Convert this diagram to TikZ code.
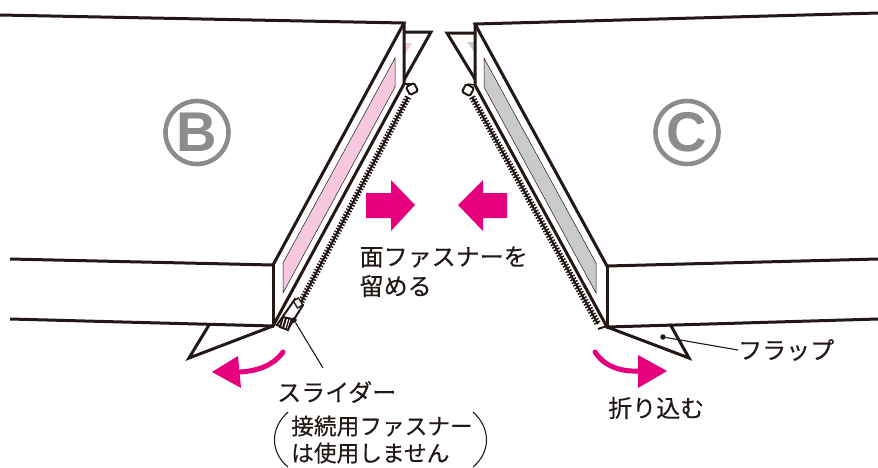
\documentclass[tikz,border=0pt]{standalone}
\usepackage{fontspec}
\usepackage{xcolor}
\newfontfamily\jpfont[FakeBold=0.25]{Noto Sans CJK JP}
\newfontfamily\capfont{Liberation Sans}
\definecolor{inkblack}{HTML}{231815}
\definecolor{magentaarrow}{HTML}{E6007E}
\definecolor{flappink}{HTML}{F5C8DD}
\definecolor{flapgray}{HTML}{C9CACA}
\definecolor{markgray}{HTML}{8C8C8C}
\tikzset{
  edge/.style={draw=inkblack,line width=3pt,line join=miter},
  thinedge/.style={draw=inkblack,line width=2pt},
  teeth/.style={draw=inkblack,line width=6.5pt,dash pattern=on 1.5pt off 1.6pt},
  tapeline/.style={draw=inkblack,line width=1.3pt},
  leader/.style={draw=inkblack,line width=1.1pt},
  leaderdot/.style={circle,fill=inkblack,inner sep=0pt,minimum size=5.5pt},
  patch/.style={draw=inkblack,line width=0.5pt},
  blockarrow/.style={fill=magentaarrow},
  curvearrow/.style={draw=magentaarrow,line width=5pt,line cap=round},
  caption/.style={inner sep=0pt,anchor=west,text=inkblack,font=\jpfont\fontsize{24}{26}\selectfont},
  smallcaption/.style={caption,font=\jpfont\fontsize{22.7}{25}\selectfont},
  markring/.style={circle,draw=markgray,line width=4.6pt,minimum size=63pt,inner sep=0pt,text=markgray,font=\capfont\bfseries\fontsize{56}{56}\selectfont},
}
\begin{document}
\begin{tikzpicture}[x=1pt,y=1pt]
\useasboundingbox (0,0) rectangle (878,-467);
% left part
\fill [flappink] (404,-43) -- (412,-43) -- (404,-56);
\draw [patch,fill=flappink] (395,-58) -- (395,-87) -- (283,-293) -- (283,-263) -- cycle;
\draw [edge] (0,-15) -- (404,-23) -- (273,-265) -- (10,-259);
\draw [edge] (404,-23) -- (404,-84) -- (273,-326) -- (10,-319);
\draw [edge] (273,-265) -- (273,-326);
\draw [edge] (404,-32) -- (431,-32) -- (404,-80);
\draw [edge] (209,-325) -- (189,-358) -- (273,-326);
% left zipper
\draw [tapeline] (404,-84) -- (411,-84);
\draw [teeth] (408,-97) -- (299,-306);
\draw [thinedge] (408,-97) -- (299,-306);
\draw [thinedge,fill=white,rounded corners=1.5pt,rotate around={28:(412,-89)}] (407.5,-93.5) rectangle (416.5,-84.5);
\draw [thinedge,fill=white] (295,-299) -- (303,-305) -- (288,-329) -- (277,-325) -- cycle;
\draw [tapeline,fill=white,rotate around={30:(298,-303)}] (295,-307) rectangle (301,-299);
\draw [thinedge,fill=white] (283,-317) -- (292,-319) -- (288,-330) -- (280,-327) -- cycle;
\draw [thinedge] (286,-318) -- (283,-328);
\draw [tapeline] (289,-319) -- (286,-329);
% right part
\fill [flapgray] (467,-42) -- (475,-42) -- (475,-53);
\draw [patch,fill=flapgray] (484,-58) -- (484,-87) -- (596,-293) -- (596,-263) -- cycle;
\draw [edge] (878,-13) -- (475,-24) -- (607,-266) -- (878,-259);
\draw [edge] (475,-24) -- (475,-85) -- (607,-327) -- (878,-319);
\draw [edge] (607,-266) -- (607,-327);
\draw [edge] (475,-33) -- (447,-33) -- (475,-79);
\draw [edge] (670,-324) -- (689,-358) -- (607,-327);
% right zipper
\draw [tapeline] (475,-85) -- (468,-84);
\draw [teeth] (472,-97) -- (598,-324);
\draw [thinedge] (472,-97) -- (598,-324);
\draw [thinedge] (598,-329) -- (607,-326);
\draw [thinedge,fill=white,rounded corners=1.5pt,rotate around={-30:(468,-90)}] (463.5,-94.5) rectangle (472.5,-85.5);
% block arrows
\fill [blockarrow] (366,-193) -- (391,-193) -- (391,-180) -- (415,-205) -- (391,-231) -- (391,-218) -- (366,-218) -- cycle;
\fill [blockarrow] (507,-193) -- (483,-193) -- (483,-180) -- (458,-205) -- (483,-231) -- (483,-218) -- (507,-218) -- cycle;
% folding arrows
\draw [curvearrow] (283,-352) .. controls (274,-365) and (258,-371) .. (240,-372);
\fill [blockarrow] (212,-372) -- (238,-356) -- (241,-388) -- cycle;
\draw [curvearrow] (595,-352) .. controls (604,-366) and (620,-372) .. (640,-371);
\fill [blockarrow] (667,-371) -- (638,-355) -- (638,-388) -- cycle;
% marks
\node [markring] (markB) at (197,-132.5) {B};
\node [markring] (markC) at (687,-132.5) {C};
% labels
\node [caption] (fastener) at (359.5,-257) {面ファスナーを};
\node [caption] (fasten) at (359.5,-286) {留める};
\node [caption] (slider) at (277,-392) {スライダー};
\node [smallcaption] (notused) at (291,-426) {接続用ファスナー};
\node [smallcaption] (notuseb) at (291,-453) {は使用しません};
\node [caption] (flap) at (738,-350) {フラップ};
\node [caption] (foldin) at (608,-408) {折り込む};
% brackets
\draw [leader] (288,-412) .. controls (270,-428) and (270,-452) .. (288,-467);
\draw [leader] (473,-412) .. controls (491,-428) and (491,-452) .. (473,-467);
% leaders
\node [leaderdot] (sliderdot) at (294,-320) {};
\node [leaderdot] (flapdot) at (663,-337) {};
\coordinate (sliderend) at (323,-368);
\draw [leader] (sliderdot) -- (sliderend);
\draw [leader] (flapdot) -- (flap.west);
\end{tikzpicture}
\end{document}
